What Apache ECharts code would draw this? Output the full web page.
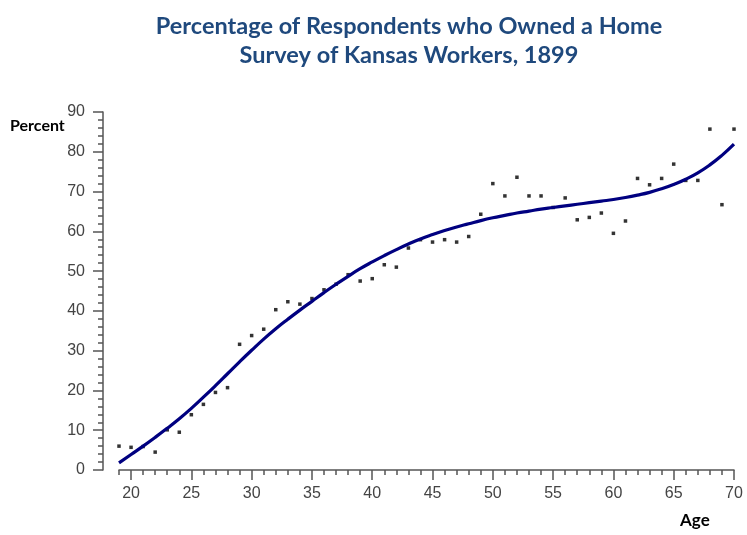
<!DOCTYPE html>
<html>
<head>
<meta charset="utf-8">
<script src="https://cdn.jsdelivr.net/npm/echarts@6/dist/echarts.min.js"></script>
<style>
  html, body { margin: 0; padding: 0; background: #fff; }
  #chart { width: 747px; height: 535px; }
</style>
</head>
<body>
<div id="chart"></div>
<script>
// ages surveyed
const ages = [19, 20, 21, 22, 23, 24, 25, 26, 27, 28, 29, 30, 31, 32, 33, 34, 35, 36,
  37, 38, 39, 40, 41, 42, 43, 44, 45, 46, 47, 48, 49, 50, 51, 52, 53, 54, 55, 56,
  57, 58, 59, 60, 61, 62, 63, 64, 65, 66, 67, 68, 69, 70]
// observed percent owning a home
const ownedPct = [6.0, 5.7, 5.9, 4.5, 10.1, 9.5, 13.9, 16.5, 19.5, 20.7, 31.6, 33.8,
  35.4, 40.3, 42.3, 41.7, 43.1, 45.3, 46.7, 49.1, 47.5, 48.1, 51.6, 51.0, 55.8,
  57.9, 57.3, 57.9, 57.3, 58.7, 64.3, 72.0, 68.9, 73.6, 68.9, 68.9, 66.0, 68.4,
  62.9, 63.5, 64.6, 59.5, 62.6, 73.3, 71.7, 73.3, 76.9, 72.8, 72.8, 85.7, 66.7, 85.7]
// fitted curve
const fittedPct = [1.8, 3.9, 6.0, 8.2, 10.5, 12.9, 15.5, 18.3, 21.2, 24.2, 27.2, 30.1,
  32.9, 35.5, 37.9, 40.2, 42.4, 44.6, 46.7, 48.7, 50.6, 52.3, 53.9, 55.4, 56.8,
  58.1, 59.2, 60.2, 61.1, 61.9, 62.7, 63.4, 64.0, 64.6, 65.1, 65.6, 66.0, 66.4,
  66.8, 67.2, 67.6, 68.0, 68.5, 69.1, 69.8, 70.7, 71.8, 73.1, 74.7, 76.7, 79.1, 81.9]
const majorAges = [20, 25, 30, 35, 40, 45, 50, 55, 60, 65, 70]

const titleLines = 'Percentage of Respondents who Owned a Home\nSurvey of Kansas Workers, 1899'

const chart = echarts.init(document.getElementById('chart'))

const axisGray = '#555'

const option = {
  animation: false,
  grid: { left: 119, right: 13, top: 112, bottom: 65 },
  graphic: [
    {
      type: 'text', x: 409, y: 12,
      style: {
        text: titleLines, fill: '#1F497D', font: 'bold 23.5px Lato',
        align: 'center', lineHeight: 29
      }
    },
    {
      type: 'text', left: 10, top: 118,
      style: { text: 'Percent', fill: '#000', font: 'bold 16px Lato' }
    },
    {
      type: 'text', left: 680, top: 512,
      style: { text: 'Age', fill: '#000', font: 'bold 17px Lato' }
    }
  ],
  xAxis: [
    {
      // minor ticks every year
      type: 'value', min: 19, max: 70, interval: 1,
      axisLine: { show: true, lineStyle: { color: axisGray, width: 1.5 } },
      axisTick: { show: true, length: 5, lineStyle: { color: axisGray, width: 1.5 } },
      axisLabel: { show: false },
      splitLine: { show: false }
    },
    {
      // major ticks + labels
      type: 'value', min: 19, max: 70, position: 'bottom',
      axisLine: { show: false },
      axisTick: { show: true, length: 10, customValues: majorAges, lineStyle: { color: axisGray, width: 1.5 } },
      axisLabel: {
        customValues: majorAges, margin: 16, color: '#444',
        fontFamily: 'Liberation Sans', fontSize: 16
      },
      splitLine: { show: false }
    }
  ],
  yAxis: {
    type: 'value', min: 0, max: 90, interval: 10, offset: 16,
    axisLine: { show: true, lineStyle: { color: axisGray, width: 1.5 } },
    axisTick: { show: true, length: 10, lineStyle: { color: axisGray, width: 1.5 } },
    minorTick: { show: true, splitNumber: 5, length: 5, lineStyle: { color: axisGray, width: 1.5 } },
    axisLabel: { margin: 18, color: '#444', fontFamily: 'Liberation Sans', fontSize: 16 },
    splitLine: { show: false }
  },
  series: [
    {
      type: 'scatter',
      symbol: 'rect',
      symbolSize: 3.5,
      itemStyle: { color: '#000' },
      data: ages.map((a, i) => [a, ownedPct[i]])
    },
    {
      type: 'line',
      smooth: true,
      showSymbol: false,
      lineStyle: { color: '#000080', width: 3.2 },
      data: ages.map((a, i) => [a, fittedPct[i]])
    }
  ]
}

chart.setOption(option)
</script>
</body>
</html>
